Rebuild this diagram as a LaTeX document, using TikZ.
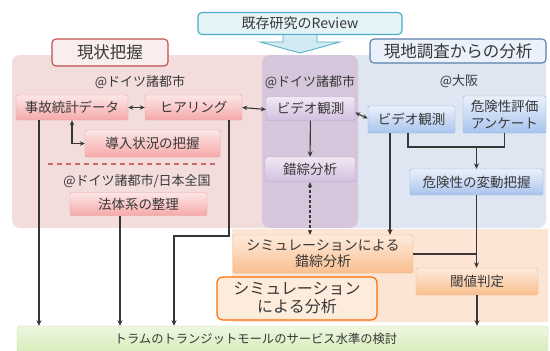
\documentclass[tikz,border=0pt]{standalone}
\usepackage{fontspec}
\setmainfont{Noto Sans CJK JP}
\usetikzlibrary{arrows.meta}
\definecolor{txt}{HTML}{383838}
\definecolor{linec}{HTML}{363636}
\definecolor{pinkpanel}{HTML}{F2DDDC}
\definecolor{bluepanel}{HTML}{DDE6F1}
\definecolor{purplepanel}{HTML}{D6C6DB}
\definecolor{orangepanel}{HTML}{FCE5D4}
\definecolor{pinktop}{HTML}{FDE6E6}
\definecolor{pinkbot}{HTML}{F5A9A9}
\definecolor{pinkedge}{HTML}{E8A0A0}
\definecolor{purptop}{HTML}{F1E8F4}
\definecolor{purpbot}{HTML}{D2BFE0}
\definecolor{purpedge}{HTML}{B9A3CB}
\definecolor{bluetop}{HTML}{EAF1FB}
\definecolor{bluebot}{HTML}{A9C4EE}
\definecolor{blueedge}{HTML}{93B2E0}
\definecolor{oratop}{HTML}{FDEBDC}
\definecolor{orabot}{HTML}{F9BF8F}
\definecolor{oraedge}{HTML}{F3B385}
\definecolor{greentop}{HTML}{EEF7E1}
\definecolor{greenbot}{HTML}{D3EAB2}
\definecolor{greenedge}{HTML}{C5DFA3}
\definecolor{redhead}{HTML}{C0504D}
\definecolor{bluehead}{HTML}{5B7FAE}
\definecolor{tealhead}{HTML}{4BACC6}
\tikzset{
  base/.style={rounded corners=1.5pt, inner sep=0pt, align=center, text=txt,
    font=\fontsize{13.5}{15.5}\selectfont},
  pinkbox/.style={base, draw=pinkedge, top color=pinktop, bottom color=pinkbot},
  purpbox/.style={base, draw=purpedge, top color=purptop, bottom color=purpbot},
  bluebox/.style={base, draw=blueedge, top color=bluetop, bottom color=bluebot},
  orabox/.style={base, draw=oraedge, top color=oratop, bottom color=orabot},
  lbl/.style={text=txt, inner sep=0pt, font=\fontsize{13}{15}\selectfont},
  headbox/.style={rounded corners=4pt, inner sep=0pt, text=txt, line width=1.1pt,
    font=\fontsize{16.5}{18}\selectfont},
  arr/.style={-{Stealth[length=5.5pt,width=5pt]}, draw=linec, line width=1.1pt},
  darr/.style={{Stealth[length=5pt,width=4.5pt]}-{Stealth[length=5pt,width=4.5pt]}, draw=linec, line width=1.1pt},
  plain/.style={draw=linec, line width=1.1pt},
}
\begin{document}
\begin{tikzpicture}[x=1pt,y=-1pt]
\useasboundingbox (0,0) rectangle (550,351);
\fill[white] (0,0) rectangle (550,351);
% panels
\fill[pinkpanel, rounded corners=8pt] (12,55) rectangle (312,228);
\fill[bluepanel, rounded corners=8pt] (300,55) rectangle (546,228);
\fill[purplepanel, rounded corners=8pt] (262,55) rectangle (358,228);
\fill[orangepanel] (232,229) rectangle (548,322);
% title and block arrow
\node[headbox, draw=tealhead, fill=tealhead!15, minimum width=204, minimum height=22,
  font=\fontsize{14}{16}\selectfont] (title) at (300,23.5) {既存研究のReview};
\path[fill=tealhead!25, draw=tealhead, line width=0.8pt]
  (283,35) -- (283,42) -- (260,42) -- (300,53) -- (340,42) -- (317,42) -- (317,35);
% headers
\node[headbox, draw=redhead, fill=redhead!10, minimum width=116, minimum height=27] (hgenjo) at (110,52.5) {現状把握};
\node[headbox, draw=bluehead, fill=bluetop, minimum width=176, minimum height=24] (hgenchi) at (458,51) {現地調査からの分析};
% labels
\node[lbl] (l1) at (140,82) {@ドイツ諸都市};
\node[lbl] (l2) at (310,82) {@ドイツ諸都市};
\node[lbl] (l3) at (459,81) {@大阪};
\node[lbl] (l4) at (137,181) {@ドイツ諸都市/日本全国};
% pink boxes
\node[pinkbox, minimum width=112, minimum height=25] (jiko) at (72,107.5) {事故統計データ};
\node[pinkbox, minimum width=97, minimum height=25] (hiaring) at (193.5,107.5) {ヒアリング};
\node[pinkbox, minimum width=135, minimum height=27] (dounyu) at (152.5,143.5) {導入状況の把握};
\node[pinkbox, minimum width=137, minimum height=23] (houtai) at (138.5,204) {法体系の整理};
% purple
\node[purpbox, minimum width=89, minimum height=24] (pvideo) at (310.5,108.5) {ビデオ観測};
\node[purpbox, minimum width=90, minimum height=25] (sakusou) at (310,169.5) {錯綜分析};
% blue
\node[bluebox, minimum width=87, minimum height=27] (bvideo) at (411.5,119.5) {ビデオ観測};
\node[bluebox, minimum width=83, minimum height=37, font=\fontsize{13.5}{17}\selectfont] (anketo) at (504.5,114.5) {危険性評価\\アンケート};
\node[bluebox, minimum width=133, minimum height=26] (kiken) at (476.5,182) {危険性の変動把握};
% orange
\node[orabox, minimum width=180, minimum height=38, font=\fontsize{14}{16}\selectfont] (simA) at (323,254) {シミュレーションによる\\錯綜分析};
\node[base, draw=orange!85!red, fill=oratop, line width=1.2pt, rounded corners=6pt,
  minimum width=160, minimum height=43, font=\fontsize{16}{18}\selectfont] (simB) at (297,298.5) {シミュレーション\\による分析};
\node[orabox, minimum width=122, minimum height=27] (thresh) at (477,281.5) {閾値判定};
% green bar
\node[draw=greenedge, top color=greentop, bottom color=greenbot, rounded corners=3pt,
  minimum width=531, minimum height=32, inner sep=0pt] (green) at (282.5,342) {};
\node[text=txt, inner sep=0pt, font=\fontsize{12.3}{14}\selectfont] (gtext) at (256,338.5) {トラムのトランジットモールのサービス水準の検討};
% dashed red separator
\draw[redhead!85, line width=1.3pt, dash pattern=on 5pt off 4pt] (48,164) -- (218,164);
% connectors
\draw[darr] (jiko.east) -- (hiaring.west);
\draw[darr] (hiaring.east) -- ([yshift=-1]pvideo.west);
\draw[darr] ([yshift=-4]pvideo.east) -- ([yshift=1]bvideo.west);
\draw[darr] (jiko.south) |- (dounyu.west);
\draw[arr] ([xshift=-33]jiko.south) -- ([xshift=-33]jiko.south |- green.north);
\draw[arr] ([xshift=-18.5]houtai.south) -- ([xshift=-18.5]houtai.south |- green.north);
\coordinate (hA) at ([xshift=35.5]hiaring.south);
\coordinate (hB) at (229,236);
\coordinate (hC) at (174,236);
\draw[arr] (hA) -- (hB) -- (hC) -- (hC |- green.north);
\draw[arr] (pvideo) -- (sakusou);
\draw[darr, dash pattern=on 3pt off 2pt] (sakusou.south) -- (sakusou.south |- simA.north);
\draw[arr] ([xshift=-21.5]bvideo.south) -- ([xshift=-21.5]bvideo.south |- simA.north);
\coordinate (bA) at ([xshift=-3.5]bvideo.south);
\coordinate (bB) at (408,147);
\coordinate (bC) at (anketo.south |- bB);
\draw[plain] (bA) -- (bB) -- (bC) -- (anketo.south);
\draw[arr] (kiken.north |- bB) -- (kiken.north);
\draw[arr] (kiken.south) -- (kiken.south |- thresh.north);
\draw[plain] (simA.east) -- (kiken.south |- simA.east);
\draw[arr] (thresh.south) -- (thresh.south |- green.north);
\end{tikzpicture}
\end{document}
